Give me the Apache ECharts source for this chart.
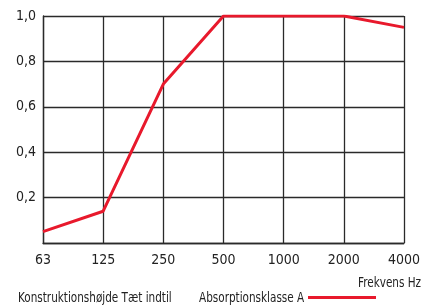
<!DOCTYPE html>
<html>
<head>
<meta charset="utf-8">
<script src="https://cdn.jsdelivr.net/npm/echarts@6/dist/echarts.min.js"></script>
<style>
  html, body { margin: 0; padding: 0; background: #fff; }
  #chart { width: 423px; height: 306px; }
</style>
</head>
<body>
<div id="chart"></div>
<script>
// frequency bands (Hz) and absorption coefficients
const frequencies = ['63', '125', '250', '500', '1000', '2000', '4000'];
const absorption = [0.05, 0.14, 0.70, 1.0, 1.0, 1.0, 0.95];
const yTicks = { min: 0, max: 1.0, interval: 0.2 };

const font = '"DejaVu Sans Condensed", "Liberation Sans Narrow", sans-serif';
const ink = '#222';
const gridInk = '#2a2a2a';
const red = '#e8192c';

var myChart = echarts.init(document.getElementById('chart'));

// condensed text helper, the original uses a very narrow face
function narrowText(x, y, text) {
  return {
    type: 'text', x: x, y: y, scaleX: 0.83,
    style: { text: text, font: '14px ' + font, fill: ink }
  };
}

var option = {
  backgroundColor: '#fff',
  animation: false,
  grid: { left: 43, right: 16, top: 16, bottom: 63 },
  legend: {
    data: ['Absorptionsklasse A'],
    left: 303, top: 291,
    icon: 'rect',
    itemWidth: 68, itemHeight: 3,
    formatter: function () { return ''; },
    textStyle: { fontSize: 1 }
  },
  xAxis: {
    type: 'category',
    data: frequencies,
    boundaryGap: false,
    axisLine: { lineStyle: { color: gridInk, width: 1.3 } },
    axisTick: { show: false },
    axisLabel: { margin: 10, fontFamily: font, fontSize: 14, color: ink },
    splitLine: { show: true, lineStyle: { color: gridInk, width: 1.3 } }
  },
  yAxis: {
    type: 'value',
    min: yTicks.min, max: yTicks.max, interval: yTicks.interval,
    axisLine: { show: true, lineStyle: { color: gridInk, width: 1.3 } },
    axisTick: { show: false },
    axisLabel: {
      margin: 7, fontFamily: font, fontSize: 14, color: ink,
      formatter: function (v) { return v === 0 ? '' : v.toFixed(1).replace('.', ','); }
    },
    splitLine: { show: true, lineStyle: { color: gridInk, width: 1.3 } }
  },
  graphic: [
    narrowText(358, 276, 'Frekvens Hz'),
    narrowText(18, 291, 'Konstruktionshøjde Tæt indtil'),
    narrowText(199, 291, 'Absorptionsklasse A')
  ],
  series: [
    {
      name: 'Absorptionsklasse A',
      type: 'line',
      data: absorption,
      showSymbol: false,
      lineStyle: { color: red, width: 3 },
      itemStyle: { color: red },
      z: 5
    }
  ]
};
myChart.setOption(option);
</script>
</body>
</html>
